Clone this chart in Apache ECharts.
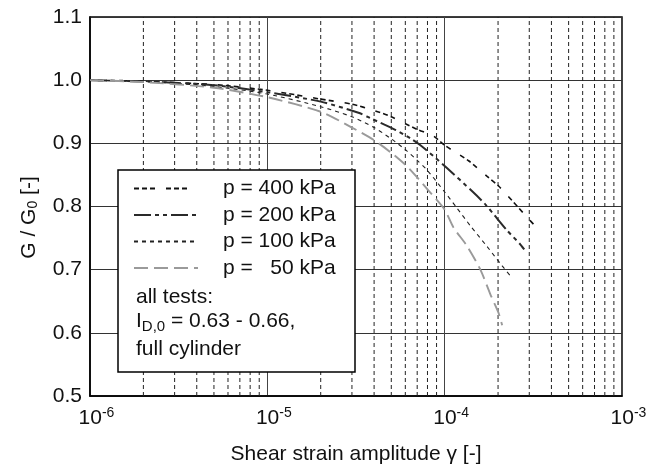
<!DOCTYPE html>
<html>
<head>
<meta charset="utf-8">
<script src="https://cdn.jsdelivr.net/npm/echarts@6/dist/echarts.min.js"></script>
<style>html,body{margin:0;padding:0;background:#fff}#c{width:650px;height:472px}</style>
</head>
<body>
<div id="c"></div>
<script>
// ---- data ----
var g400x = [1e-6, 2e-6, 5e-6, 1e-5, 2e-5, 3e-5, 4e-5, 5e-5, 7e-5, 8.6e-5, 1e-4, 1.37e-4, 1.73e-4, 2.02e-4, 2.25e-4, 2.79e-4, 3.24e-4];
var g400y = [1.0, 0.998, 0.993, 0.984, 0.970, 0.962, 0.952, 0.942, 0.922, 0.912, 0.897, 0.872, 0.848, 0.832, 0.818, 0.789, 0.769];

var g200x = [1e-6, 2e-6, 5e-6, 1e-5, 2e-5, 3.3e-5, 3.8e-5, 5.3e-5, 6.4e-5, 7.3e-5, 8.7e-5, 1.03e-4, 1.43e-4, 1.70e-4, 2.25e-4, 2.65e-4, 2.81e-4];
var g200y = [1.0, 0.998, 0.992, 0.981, 0.966, 0.948, 0.940, 0.921, 0.908, 0.897, 0.879, 0.861, 0.824, 0.803, 0.762, 0.741, 0.732];

var g100x = [1e-6, 2e-6, 5e-6, 1e-5, 2e-5, 3e-5, 4e-5, 5e-5, 6e-5, 7e-5, 8e-5, 1e-4, 1.17e-4, 1.4e-4, 1.73e-4, 2.11e-4, 2.4e-4];
var g100y = [1.0, 0.998, 0.990, 0.978, 0.958, 0.942, 0.925, 0.907, 0.890, 0.873, 0.857, 0.823, 0.798, 0.769, 0.737, 0.706, 0.687];

var g50x = [1e-6, 2e-6, 5e-6, 1e-5, 2e-5, 3e-5, 4e-5, 5e-5, 6e-5, 7e-5, 8e-5, 1e-4, 1.12e-4, 1.34e-4, 1.59e-4, 1.81e-4, 2.01e-4, 2.11e-4];
var g50y = [1.0, 0.997, 0.988, 0.973, 0.950, 0.925, 0.905, 0.885, 0.866, 0.846, 0.827, 0.795, 0.767, 0.737, 0.700, 0.661, 0.632, 0.612];

var seriesNames = ['p = 400 kPa', 'p = 200 kPa', 'p = 100 kPa', 'p = \u200750 kPa'];
var minorX = [2e-6,3e-6,4e-6,5e-6,6e-6,7e-6,8e-6,9e-6,
              2e-5,3e-5,4e-5,5e-5,6e-5,7e-5,8e-5,9e-5,
              2e-4,3e-4,4e-4,5e-4,6e-4,7e-4,8e-4,9e-4];
var yRange = [0.5, 1.1];
var noteLines = ['all tests:', '{t|I}{sub|D,0}{t| = 0.63 - 0.66,}', 'full cylinder'];

function pairs(xs, ys) { return xs.map(function (x, i) { return [x, ys[i]]; }); }

var FONT = '"Liberation Sans", Arial, Helvetica, sans-serif';
var chart = echarts.init(document.getElementById('c'), null, {renderer: 'canvas'});

var curveStyles = [
  {color: '#111', width: 1.6, type: [5, 3, 5, 3, 5, 11]},
  {color: '#2a2a2a', width: 2.0, type: [17, 4, 4, 4, 4, 4]},
  {color: '#222', width: 1.1, type: [4, 4]},
  {color: '#9a9a9a', width: 1.9, type: [14, 6]}
];
var curveData = [pairs(g400x, g400y), pairs(g200x, g200y), pairs(g100x, g100y), pairs(g50x, g50y)];

var series = curveData.map(function (d, i) {
  return {
    name: seriesNames[i], type: 'line', data: d, showSymbol: false, symbol: 'none',
    smooth: 0.25, lineStyle: curveStyles[i], itemStyle: {color: curveStyles[i].color},
    z: 3, animation: false
  };
});
series.push({
  name: 'minor', type: 'custom', data: minorX, silent: true, animation: false, z: 1,
  encode: {x: 0},
  renderItem: function (params, api) {
    var v = api.value(0);
    var p0 = api.coord([v, yRange[0]]);
    var p1 = api.coord([v, yRange[1]]);
    return {
      type: 'line', shape: {x1: p0[0], y1: p0[1], x2: p1[0], y2: p1[1]},
      style: {stroke: '#222', lineWidth: 1, lineDash: [4, 3]}
    };
  }
});

var option = {
  backgroundColor: '#fff',
  animation: false,
  grid: {left: 90, right: 28, top: 17, bottom: 76, show: true, borderColor: '#000', borderWidth: 1.5, backgroundColor: 'transparent'},
  xAxis: {
    type: 'log', logBase: 10, min: 1e-6, max: 1e-3,
    name: 'Shear strain amplitude \u03b3 [-]', nameLocation: 'middle', nameGap: 48,
    nameTextStyle: {fontFamily: FONT, fontSize: 21, color: '#111'},
    axisLine: {show: true, lineStyle: {color: '#000', width: 1.5}},
    axisTick: {show: false},
    splitLine: {show: true, lineStyle: {color: '#444', width: 1}},
    axisLabel: {
      margin: 10, fontFamily: FONT, color: '#111',
      formatter: function (v) { return '{b|10}{s|' + Math.round(Math.log10(v)) + '}'; },
      rich: {
        b: {fontSize: 21, fontFamily: FONT, color: '#111', padding: [0, 0, 0, 13]},
        s: {fontSize: 14, fontFamily: FONT, color: '#111', verticalAlign: 'top', padding: [0, 0, 10, 0]}
      }
    }
  },
  yAxis: {
    type: 'value', min: yRange[0], max: yRange[1], interval: 0.1,
    name: '{n|G / G}{sub|0}{n| [-]}', nameLocation: 'middle', nameGap: 50, nameRotate: 90,
    nameTextStyle: {
      fontFamily: FONT, fontSize: 21, color: '#111', padding: [0, 22, 0, 0],
      rich: {
        n: {fontFamily: FONT, fontSize: 21, color: '#111'},
        sub: {fontFamily: FONT, fontSize: 14, color: '#111', verticalAlign: 'bottom', padding: [8, 0, 0, 0]}
      }
    },
    axisLine: {show: true, lineStyle: {color: '#000', width: 1.5}},
    axisTick: {show: false},
    splitLine: {show: true, lineStyle: {color: '#333', width: 1}},
    axisLabel: {
      margin: 8, fontFamily: FONT, fontSize: 21, color: '#111',
      formatter: function (v) { return v.toFixed(1); }
    }
  },
  legend: {
    show: true, orient: 'vertical', left: 133, top: 178, padding: 0,
    itemWidth: 64, itemHeight: 14, itemGap: 5.5, z: 20,
    itemStyle: {opacity: 0, borderWidth: 0},
    data: seriesNames,
    textStyle: {fontFamily: FONT, fontSize: 21, color: '#111', padding: [0, 0, 0, 20]}
  },
  graphic: [
    {type: 'rect', z: 10, shape: {x: 118, y: 170, width: 237, height: 202},
     style: {fill: '#fff', stroke: '#000', lineWidth: 1.5}},
    {type: 'text', z: 21, left: 136, top: 287,
     style: {text: noteLines[0], font: '21px ' + FONT, fill: '#111'}},
    {type: 'text', z: 21, left: 136, top: 311,
     style: {text: noteLines[1], fill: '#111',
       rich: {t: {fontSize: 21, fontFamily: FONT, fill: '#111', color: '#111'},
              sub: {fontSize: 15, fontFamily: FONT, color: '#111', fill: '#111', padding: [10, 0, 0, 0]}}}},
    {type: 'text', z: 21, left: 136, top: 339,
     style: {text: noteLines[2], font: '21px ' + FONT, fill: '#111'}}
  ],
  series: series
};
chart.setOption(option);
</script>
</body>
</html>
